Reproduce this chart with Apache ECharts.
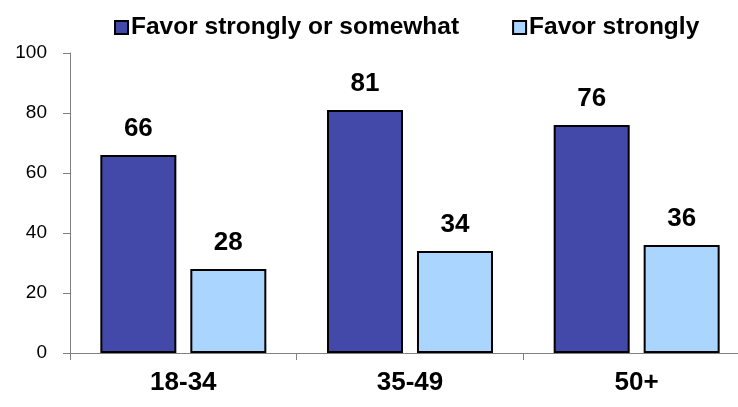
<!DOCTYPE html>
<html>
<head>
<meta charset="utf-8">
<script src="https://cdn.jsdelivr.net/npm/echarts@6/dist/echarts.min.js"></script>
<style>
html,body{margin:0;padding:0;background:#fff;}
#chart{width:738px;height:407px;}
</style>
</head>
<body>
<div id="chart"></div>
<script>
var categories = ['18-34', '35-49', '50+'];
var seriesNames = ['Favor strongly or somewhat', 'Favor strongly'];
var favorStronglyOrSomewhat = [66, 81, 76];
var favorStrongly = [28, 34, 36];
var yTicks = [0, 20, 40, 60, 80, 100];

var FONT = "'Liberation Sans', Arial, sans-serif";
var chart = echarts.init(document.getElementById('chart'), null, {renderer: 'canvas'});

var labelStyle = {
  show: true,
  position: 'top',
  distance: 13,
  color: '#000',
  fontFamily: FONT,
  fontWeight: 'bold',
  fontSize: 26
};

chart.setOption({
  animation: false,
  backgroundColor: '#ffffff',
  legend: {
    left: 109,
    top: 10,
    itemWidth: 13,
    itemHeight: 13,
    itemGap: 53,
    icon: 'rect',
    textStyle: {
      color: '#000',
      fontFamily: FONT,
      fontWeight: 'bold',
      fontSize: 24.5,
      padding: [0, 0, 0, -2]
    },
    data: seriesNames
  },
  grid: {
    left: 70,
    right: -12,
    top: 53,
    bottom: 54,
    containLabel: false,
    outerBoundsMode: 'none'
  },
  xAxis: {
    type: 'category',
    data: categories,
    axisLine: {show: true, lineStyle: {color: '#808080', width: 1}},
    axisTick: {show: true, length: 7, lineStyle: {color: '#808080'}},
    axisLabel: {
      color: '#000',
      fontFamily: FONT,
      fontWeight: 'bold',
      fontSize: 26,
      margin: 17
    }
  },
  yAxis: {
    type: 'value',
    min: yTicks[0],
    max: yTicks[yTicks.length - 1],
    interval: yTicks[1] - yTicks[0],
    axisLine: {show: true, lineStyle: {color: '#808080', width: 1}},
    axisTick: {show: true, length: 7, lineStyle: {color: '#808080'}},
    splitLine: {show: false},
    axisLabel: {
      color: '#000',
      fontFamily: FONT,
      fontSize: 19,
      margin: 23
    }
  },
  series: [
    {
      name: seriesNames[0],
      type: 'bar',
      data: favorStronglyOrSomewhat,
      barWidth: 76,
      barGap: '18.4%',
      itemStyle: {color: '#4349A9', borderColor: '#000', borderWidth: 2},
      label: labelStyle
    },
    {
      name: seriesNames[1],
      type: 'bar',
      data: favorStrongly,
      barWidth: 76,
      barGap: '18.4%',
      itemStyle: {color: '#A9D5FF', borderColor: '#000', borderWidth: 2},
      label: labelStyle
    }
  ]
});
</script>
</body>
</html>
